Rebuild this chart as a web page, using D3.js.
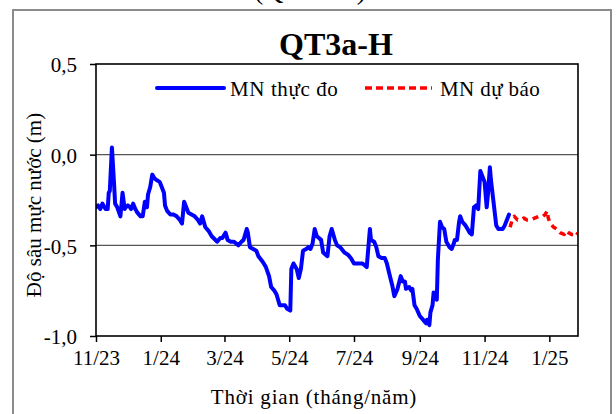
<!DOCTYPE html>
<html>
<head>
<meta charset="utf-8">
<script src="https://cdn.jsdelivr.net/npm/d3@7"></script>
<style>
  html, body { margin: 0; padding: 0; background: #fff; }
  svg { display: block; }
  text { font-family: "Liberation Serif", "Times New Roman", serif; fill: #000; }
</style>
</head>
<body>
<svg id="chart" width="616" height="414"></svg>
<script>
// ---------------- DATA ----------------
const chartTitle = "QT3a-H";
const captionText = "(QT3a-H)";
const seriesNames = ["MN thực đo", "MN dự báo"];
const yAxisTitle = "Độ sâu mực nước (m)";
const xAxisTitle = "Thời gian (tháng/năm)";

const yTickValues = [0.5, 0.0, -0.5, -1.0];
const yTickLabels = ["0,5", "0,0", "-0,5", "-1,0"];
const xTickDates = ["2023-11-01","2024-01-01","2024-03-01","2024-05-01","2024-07-01","2024-09-01","2024-11-01","2025-01-01"];
const xTickLabels = ["11/23","1/24","3/24","5/24","7/24","9/24","11/24","1/25"];
const xDomain = ["2023-11-01", "2025-01-28"];
const yDomain = [-1.0, 0.5];

const obsDates = [
"2023-11-01","2023-11-03","2023-11-05","2023-11-07","2023-11-09","2023-11-10","2023-11-12","2023-11-13","2023-11-14","2023-11-16",
"2023-11-18","2023-11-19","2023-11-21","2023-11-24","2023-11-26","2023-11-28","2023-11-29","2023-12-01","2023-12-03","2023-12-04",
"2023-12-06","2023-12-08","2023-12-10","2023-12-13","2023-12-15","2023-12-17","2023-12-19","2023-12-20","2023-12-22","2023-12-24",
"2023-12-26","2023-12-28","2023-12-31","2024-01-02","2024-01-04","2024-01-05","2024-01-07","2024-01-10","2024-01-13","2024-01-16",
"2024-01-19","2024-01-21","2024-01-23","2024-01-25","2024-01-27","2024-01-30","2024-02-02","2024-02-05","2024-02-07","2024-02-09",
"2024-02-12","2024-02-15","2024-02-18","2024-02-23","2024-02-26","2024-02-28","2024-03-02","2024-03-04","2024-03-07","2024-03-10",
"2024-03-14","2024-03-17","2024-03-19","2024-03-22","2024-03-23","2024-03-25","2024-03-28","2024-03-31","2024-04-02","2024-04-06",
"2024-04-09","2024-04-12","2024-04-14","2024-04-17","2024-04-19","2024-04-22","2024-04-25","2024-04-27","2024-04-29","2024-05-02",
"2024-05-03","2024-05-05","2024-05-08","2024-05-10","2024-05-12","2024-05-14","2024-05-17","2024-05-19","2024-05-21","2024-05-23",
"2024-05-25","2024-05-27","2024-05-29","2024-05-31","2024-06-02","2024-06-04","2024-06-06","2024-06-08","2024-06-10","2024-06-13",
"2024-06-15","2024-06-18","2024-06-22","2024-06-25","2024-06-28","2024-07-01","2024-07-06","2024-07-09","2024-07-11","2024-07-13",
"2024-07-16","2024-07-17","2024-07-20","2024-07-22","2024-07-24","2024-07-27","2024-07-30","2024-08-01","2024-08-03","2024-08-06",
"2024-08-08","2024-08-11","2024-08-14","2024-08-16","2024-08-18","2024-08-19","2024-08-22","2024-08-24","2024-08-25","2024-08-27",
"2024-08-29","2024-09-01","2024-09-04","2024-09-07","2024-09-08","2024-09-10","2024-09-11","2024-09-13","2024-09-14","2024-09-17",
"2024-09-18","2024-09-20","2024-09-22","2024-09-24","2024-09-26","2024-09-29","2024-10-01","2024-10-03","2024-10-04","2024-10-06",
"2024-10-08","2024-10-09","2024-10-11","2024-10-14","2024-10-16","2024-10-18","2024-10-20","2024-10-22","2024-10-24","2024-10-26",
"2024-10-28","2024-10-30","2024-11-01","2024-11-03","2024-11-04","2024-11-06","2024-11-07","2024-11-10","2024-11-12","2024-11-14",
"2024-11-18","2024-11-20","2024-11-22","2024-11-24"
];
const obsValues = [
-0.29,-0.28,-0.30,-0.27,-0.29,-0.30,-0.30,-0.21,-0.20,0.04,
-0.16,-0.27,-0.29,-0.34,-0.21,-0.30,-0.29,-0.28,-0.29,-0.30,
-0.27,-0.30,-0.32,-0.34,-0.34,-0.26,-0.29,-0.22,-0.18,-0.11,
-0.13,-0.14,-0.15,-0.18,-0.21,-0.28,-0.31,-0.33,-0.33,-0.34,
-0.36,-0.38,-0.26,-0.29,-0.32,-0.33,-0.34,-0.36,-0.38,-0.34,
-0.40,-0.42,-0.45,-0.48,-0.46,-0.46,-0.43,-0.47,-0.48,-0.48,
-0.50,-0.48,-0.47,-0.41,-0.43,-0.51,-0.52,-0.53,-0.56,-0.59,
-0.62,-0.67,-0.73,-0.75,-0.77,-0.83,-0.83,-0.83,-0.85,-0.86,
-0.63,-0.60,-0.63,-0.68,-0.63,-0.53,-0.52,-0.51,-0.52,-0.49,
-0.41,-0.45,-0.46,-0.47,-0.54,-0.55,-0.56,-0.45,-0.41,-0.47,
-0.50,-0.51,-0.54,-0.55,-0.57,-0.60,-0.60,-0.60,-0.61,-0.62,
-0.41,-0.47,-0.48,-0.51,-0.56,-0.57,-0.57,-0.60,-0.65,-0.72,
-0.78,-0.74,-0.67,-0.70,-0.70,-0.74,-0.73,-0.75,-0.74,-0.83,
-0.85,-0.89,-0.91,-0.93,-0.91,-0.94,-0.87,-0.83,-0.76,-0.80,
-0.58,-0.37,-0.40,-0.41,-0.48,-0.51,-0.52,-0.49,-0.47,-0.47,
-0.37,-0.34,-0.37,-0.39,-0.41,-0.43,-0.44,-0.29,-0.28,-0.30,
-0.09,-0.12,-0.15,-0.29,-0.23,-0.07,-0.14,-0.29,-0.39,-0.41,
-0.41,-0.39,-0.36,-0.33
];

const fcDates = [
"2024-11-25","2024-11-27","2024-11-29","2024-12-02","2024-12-05","2024-12-08","2024-12-11","2024-12-14","2024-12-18","2024-12-22",
"2024-12-26","2024-12-28","2024-12-30","2024-12-31","2025-01-02","2025-01-05","2025-01-08","2025-01-11","2025-01-15","2025-01-17",
"2025-01-19","2025-01-22","2025-01-24","2025-01-26","2025-01-28"
];
const fcValues = [
-0.40,-0.36,-0.34,-0.36,-0.36,-0.35,-0.36,-0.36,-0.35,-0.34,
-0.34,-0.33,-0.31,-0.35,-0.38,-0.40,-0.41,-0.43,-0.44,-0.42,
-0.43,-0.44,-0.44,-0.45,-0.43
];

// ---------------- CHART ----------------
const parse = d3.timeParse("%Y-%m-%d");
const svg = d3.select("#chart");
const plot = { left: 96, right: 578, top: 64, bottom: 336 };
const FONT = 21;

const x = d3.scaleTime().domain(xDomain.map(parse)).range([plot.left, plot.right]);
const y = d3.scaleLinear().domain(yDomain).range([plot.bottom, plot.top]);

// Caption cut off at the very top (as in the reference)
svg.append("text").attr("x", 310).attr("y", -1).attr("text-anchor", "middle")
  .style("font-size", "28px").text(captionText);

// Outer frame
svg.append("rect").attr("x", 13).attr("y", 10).attr("width", 598).attr("height", 420)
  .attr("fill", "none").attr("stroke", "#8c8c8c").attr("stroke-width", 2);

// Title
svg.append("text").attr("x", 336).attr("y", 55).attr("text-anchor", "middle")
  .style("font-size", "32px").style("font-weight", "bold").text(chartTitle);

// Gridlines (interior only)
svg.append("g").selectAll("line").data(yTickValues.filter(v => v > yDomain[0] && v < yDomain[1]))
  .join("line")
  .attr("x1", plot.left).attr("x2", plot.right)
  .attr("y1", d => y(d)).attr("y2", d => y(d))
  .attr("stroke", "#555").attr("stroke-width", 1.3);

// Axes
const yAxis = d3.axisLeft(y).tickValues(yTickValues)
  .tickFormat((d, i) => yTickLabels[i]).tickSize(6).tickSizeOuter(0).tickPadding(13);
const gy = svg.append("g").attr("transform", `translate(${plot.left},0)`).call(yAxis);
gy.select(".domain").remove();
gy.selectAll(".tick line").attr("stroke", "#000").attr("stroke-width", 1.5);
gy.selectAll(".tick text").style("font-size", FONT + "px")
  .style("font-family", '"Liberation Serif", "Times New Roman", serif').attr("dy", "0.38em");

const xAxis = d3.axisBottom(x).tickValues(xTickDates.map(parse))
  .tickFormat((d, i) => xTickLabels[i]).tickSize(6).tickSizeOuter(0).tickPadding(8);
const gx = svg.append("g").attr("transform", `translate(0,${plot.bottom})`).call(xAxis);
gx.select(".domain").remove();
gx.selectAll(".tick line").attr("stroke", "#000").attr("stroke-width", 1.5);
gx.selectAll(".tick text").style("font-size", FONT + "px")
  .style("font-family", '"Liberation Serif", "Times New Roman", serif');

// Axis titles
svg.append("text").attr("transform", "translate(41,205) rotate(-90)")
  .attr("text-anchor", "middle").style("font-size", FONT + "px").text(yAxisTitle);
svg.append("text").attr("x", 314).attr("y", 404)
  .attr("text-anchor", "middle").style("font-size", FONT + "px")
  .style("letter-spacing", "0.8px").text(xAxisTitle);

// Clip
svg.append("defs").append("clipPath").attr("id", "clip")
  .append("rect").attr("x", plot.left).attr("y", plot.top)
  .attr("width", plot.right - plot.left).attr("height", plot.bottom - plot.top);

const line = d3.line().x(d => x(d[0])).y(d => y(d[1]));
const obs = obsDates.map((d, i) => [parse(d), obsValues[i]]);
const fc = fcDates.map((d, i) => [parse(d), fcValues[i]]);

const lines = svg.append("g").attr("clip-path", "url(#clip)");
lines.append("path").datum(obs).attr("d", line)
  .attr("fill", "none").attr("stroke", "#0000ff").attr("stroke-width", 4)
  .attr("stroke-linejoin", "round").attr("stroke-linecap", "round");
lines.append("path").datum(fc).attr("d", line)
  .attr("fill", "none").attr("stroke", "#ff0000").attr("stroke-width", 3.5)
  .attr("stroke-dasharray", "6,5").attr("stroke-linejoin", "round");

// Plot border
svg.append("rect").attr("x", plot.left).attr("y", plot.top)
  .attr("width", plot.right - plot.left).attr("height", plot.bottom - plot.top)
  .attr("fill", "none").attr("stroke", "#000").attr("stroke-width", 1.6);

// Legend
const legend = svg.append("g");
legend.append("line").attr("x1", 157).attr("x2", 224).attr("y1", 88).attr("y2", 88)
  .attr("stroke", "#0000ff").attr("stroke-width", 4).attr("stroke-linecap", "round");
legend.append("text").attr("x", 230).attr("y", 96).style("font-size", FONT + "px")
  .style("letter-spacing", "0.6px").text(seriesNames[0]);
legend.append("line").attr("x1", 365).attr("x2", 432).attr("y1", 88).attr("y2", 88)
  .attr("stroke", "#ff0000").attr("stroke-width", 3.5).attr("stroke-dasharray", "7,4");
legend.append("text").attr("x", 440).attr("y", 96).style("font-size", FONT + "px")
  .style("letter-spacing", "0.4px").text(seriesNames[1]);
</script>
</body>
</html>
